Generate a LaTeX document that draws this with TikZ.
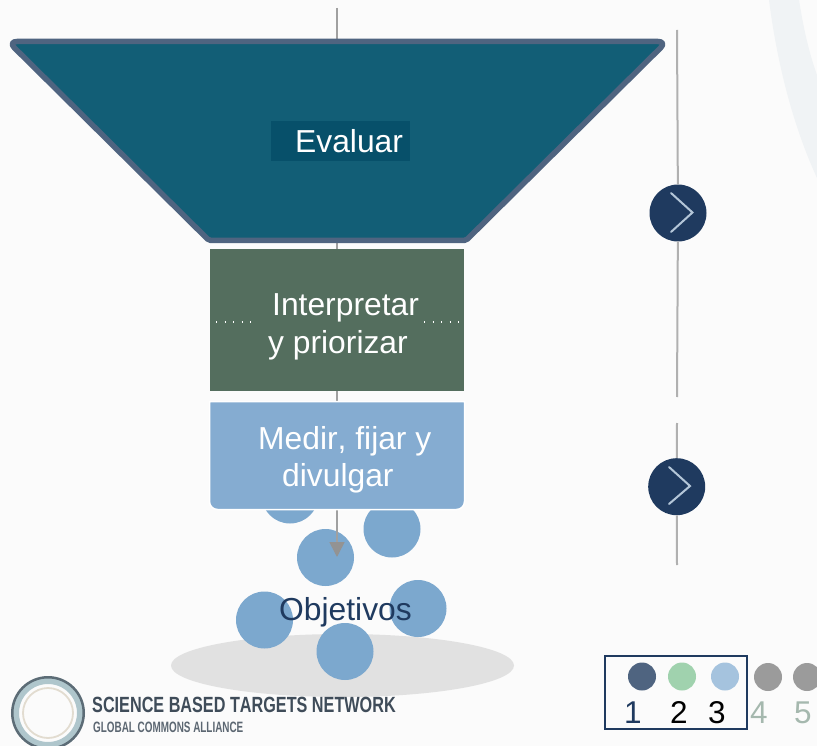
\documentclass[tikz,border=0pt]{standalone}
\usepackage{fontspec}
\usepackage{graphicx}
\setmainfont[Kerning=Off]{Liberation Sans}
\usetikzlibrary{arrows.meta,shapes.geometric,calc}
\definecolor{bgc}{HTML}{FBFBFB}
\definecolor{arcc}{HTML}{F0F3F5}
\definecolor{teal}{HTML}{125E76}
\definecolor{tealb}{HTML}{4F6480}
\definecolor{teald}{HTML}{07506A}
\definecolor{greenb}{HTML}{546E5E}
\definecolor{blueb}{HTML}{85ACD1}
\definecolor{ballc}{HTML}{7CA8CE}
\definecolor{navyc}{HTML}{1F3A5F}
\definecolor{chevc}{HTML}{B4C6D8}
\definecolor{linec}{HTML}{A0A0A0}
\definecolor{sidec}{HTML}{B0B0B0}
\definecolor{ellc}{HTML}{E1E1E1}
\definecolor{logot}{HTML}{3F4C59}
\tikzset{
  lbl/.style={anchor=base west,inner sep=0pt,font=\fontsize{31.8}{36}\selectfont,text=white},
  ball/.style={circle,fill=ballc,minimum size=57pt,inner sep=0pt},
  navball/.style={circle,fill=navyc,minimum size=57pt,inner sep=0pt},
  vline/.style={draw=linec,line width=1.6pt},
  sideline/.style={draw=sidec,line width=2pt},
  chev/.style={draw=chevc,line width=2pt,line cap=round,line join=miter},
  dot/.style={circle,minimum size=28pt,inner sep=0pt},
  digit/.style={anchor=base west,inner sep=0pt,font=\fontsize{31.5}{36}\selectfont},
  dots/.style={draw=white,line width=1.3pt,dash pattern=on 1.3pt off 7.2pt}
}
\begin{document}
\begin{tikzpicture}[x=1pt,y=-1pt]
\clip (0,0) rectangle (817,746);
\fill[bgc] (0,0) rectangle (817,746);
% faint background arcs
\fill[arcc] (769,0) .. controls (778,70) and (795,130) .. (817,178) -- (817,75) .. controls (808,50) and (803,25) .. (799,0) -- cycle;
% ellipse
\node[ellipse,fill=ellc,minimum width=343pt,minimum height=63pt,inner sep=0pt] (plate) at (342.5,665.5) {};
% balls
\node[ball] (b1) at (290,495) {};
\node[ball] (b2) at (392,529) {};
\node[ball] (b3) at (325.5,557.5) {};
\node[ball] (b4) at (264.5,620) {};
\node[ball] (b5) at (418,608.5) {};
\node[ball] (b6) at (345,651.5) {};
% central connector
\coordinate (ctop) at (337,8);
\coordinate (ctip) at (337,557);
\draw[vline,-{Triangle[length=15pt,width=15pt,color=linec!92!black]}] (ctop) -- (ctip);
% funnel
\draw[draw=tealb,fill=teal,line width=5.5pt,line join=round]
  [rounded corners=2pt] (337,41.5) [rounded corners=9pt] -- (667,41.5) [rounded corners=2pt] -- (466,240.5) -- (209,240.5) [rounded corners=9pt] -- (8,41.5) [rounded corners=2pt] -- cycle;
\node[fill=teald,minimum width=139pt,minimum height=40pt,inner sep=0pt] (evalbg) at (340.5,141) {};
\node[lbl] (evaluar) at (295,153) {Evaluar};
% green box
\node[fill=greenb,minimum width=254pt,minimum height=142pt,inner sep=0pt] (green) at (337,320) {};
\node[lbl] (interp) at (272,316) {Interpretar};
\node[lbl] (prior) at (268,353) {y priorizar};
\coordinate (d1a) at (216,322); \coordinate (d1b) at (253,322);
\coordinate (d2a) at (424,322); \coordinate (d2b) at (461,322);
\draw[dots] (d1a) -- (d1b);
\draw[dots] (d2a) -- (d2b);
% blue box
\draw[draw=white,line width=1.5pt,fill=blueb]
  (209.5,401.5) -- (464.5,401.5) -- (464.5,501.5) arc[start angle=0,end angle=90,radius=8] -- (217.5,509.5) arc[start angle=90,end angle=180,radius=8] -- cycle;
\node[lbl] (medir) at (258,449) {Medir, fijar y};
\node[lbl] (divul) at (282,486) {divulgar};
% Objetivos
\node[lbl,text=navyc] (obj) at (279,620) {Objetivos};
% right line 1
\node[navball] (n1) at (678,213) {};
\coordinate (r1a) at (677,30); \coordinate (r1b) at (677,397);
\draw[sideline] (r1a) -- (n1);
\draw[sideline] (n1) -- (r1b);
\draw[chev] (671,193) -- (692.5,212.5) -- (671,232);
% right line 2
\node[navball] (n2) at (676.7,486.7) {};
\coordinate (r2a) at (677,423); \coordinate (r2b) at (677,565);
\draw[sideline] (r2a) -- (n2);
\draw[sideline] (n2) -- (r2b);
\draw[chev] (669,467) -- (690,486) -- (669,504);
% legend
\node[draw=navyc,line width=2pt,minimum width=142pt,minimum height=73pt,inner sep=0pt] (legend) at (676,692.5) {};
\node[dot,fill=tealb] (l1) at (642,676.5) {};
\node[dot,fill={rgb,255:red,160;green,210;blue,174}] (l2) at (682,676.5) {};
\node[dot,fill={rgb,255:red,165;green,195;blue,222}] (l3) at (725,676.5) {};
\node[dot,fill={rgb,255:red,155;green,155;blue,155}] (l4) at (768,677) {};
\node[dot,fill={rgb,255:red,155;green,155;blue,155}] (l5) at (807,677) {};
\node[digit,text=navyc] (t1) at (624,723) {1};
\node[digit,text=black] (t2) at (670,723) {2};
\node[digit,text=black] (t3) at (708,723) {3};
\node[digit,text={rgb,255:red,165;green,184;blue,174}] (t4) at (750,723) {4};
\node[digit,text={rgb,255:red,165;green,184;blue,174}] (t5) at (794,723) {5};
% logo
\node[circle,draw={rgb,255:red,175;green,198;blue,204},line width=6pt,minimum size=64pt,inner sep=0pt] (ring2) at (48,713) {};
\node[circle,draw={rgb,255:red,92;green,108;blue,118},line width=2.5pt,minimum size=71.5pt,inner sep=0pt] (ring1) at (48,713) {};
\node[circle,draw={rgb,255:red,226;green,220;blue,208},line width=1.8pt,minimum size=50pt,inner sep=0pt] (ring3) at (48,713) {};
\node[anchor=base west,inner sep=0pt,text=logot] (logo1) at (92,712) {\scalebox{.737}[1]{\fontsize{22}{24}\selectfont\bfseries SCIENCE BASED TARGETS NETWORK}};
\node[anchor=base west,inner sep=0pt,text=logot!85!white] (logo2) at (93,732) {\scalebox{.66}[1]{\fontsize{15}{17}\selectfont\bfseries GLOBAL COMMONS ALLIANCE}};
\end{tikzpicture}
\end{document}
